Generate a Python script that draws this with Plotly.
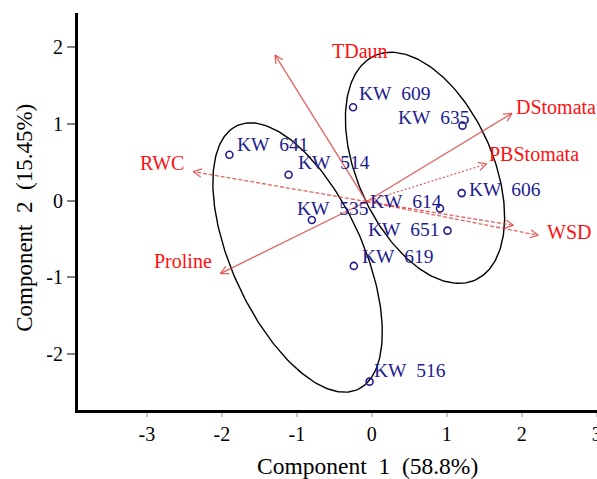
import numpy as np
import plotly.graph_objects as go

# ---------------- data ----------------
genotypes = ["KW 641", "KW 514", "KW 535", "KW 609", "KW 635",
             "KW 606", "KW 614", "KW 651", "KW 619", "KW 516"]
pc1_scores = [-1.90, -1.11, -0.80, -0.25, 1.21, 1.20, 0.91, 1.01, -0.24, -0.03]
pc2_scores = [0.60, 0.34, -0.25, 1.22, 0.98, 0.10, -0.10, -0.39, -0.85, -2.36]

variables = ["TDaun", "RWC", "DStomata", "PBStomata", "", "WSD", "Proline"]
load_pc1 = [-1.29, -2.38, 1.87, 1.53, 1.89, 2.22, -2.02]
load_pc2 = [1.90, 0.38, 1.14, 0.48, -0.32, -0.45, -0.95]
arrow_origin = [-0.07, -0.01]

# confidence ellipses: center x, center y, semi-major, semi-minor, angle (deg)
ellipse_left = [-0.99, -0.74, 1.90, 0.87, -64.7]
ellipse_right = [0.71, 0.43, 1.61, 0.90, -65.0]

x_ticks = [-3, -2, -1, 0, 1, 2, 3]
y_ticks = [-2, -1, 0, 1, 2]

# ---------------- styles / layout ----------------
FONT = "Liberation Serif"
BLUE = "#221c8e"
RED = "#ff1010"
ARROW = "rgba(222,70,70,0.85)"
NB = "\u00a0\u00a0"

W, H = 597, 479
M = dict(l=78, r=0, t=13, b=69)
XR = [-3.92, 3.005]
YR = [-2.73, 2.45]
sx = (W - M["l"] - M["r"]) / (XR[1] - XR[0])   # px per x unit
sy = (H - M["t"] - M["b"]) / (YR[1] - YR[0])   # px per y unit

# label offsets in pixels: (anchor, xshift, yshift)
point_label_style = {
    "KW 641": ("left", 7, 10), "KW 514": ("left", 8, 12),
    "KW 535": ("left", -16, 11), "KW 609": ("left", 5, 14),
    "KW 635": ("right", 9, 8), "KW 606": ("left", 6, 4),
    "KW 614": ("right", 3, 7), "KW 651": ("right", -6, 1),
    "KW 619": ("left", 7, 9), "KW 516": ("left", 3, 11),
}
var_label_style = {
    "TDaun": ("left", 56, 4), "RWC": ("right", -8, 9),
    "DStomata": ("left", 3, 6), "PBStomata": ("left", 2, 10),
    "WSD": ("left", 8, 3), "Proline": ("right", -7, 13),
}
var_dash = {"TDaun": "solid", "RWC": "4px,2px", "DStomata": "solid",
            "PBStomata": "2px,2px", "": "4px,2px", "WSD": "4px,2px",
            "Proline": "solid"}

fig = go.Figure()

# ellipses
def ellipse_xy(p):
    cx, cy, a, b, ang = p
    t = np.linspace(0, 2 * np.pi, 240)
    th = np.deg2rad(ang)
    x = cx + a * np.cos(t) * np.cos(th) - b * np.sin(t) * np.sin(th)
    y = cy + a * np.cos(t) * np.sin(th) + b * np.sin(t) * np.cos(th)
    return x, y

for e in (ellipse_left, ellipse_right):
    ex, ey = ellipse_xy(e)
    fig.add_trace(go.Scatter(x=ex, y=ey, mode="lines",
                             line=dict(color="black", width=1.4),
                             hoverinfo="skip", showlegend=False))

annotations = []
HEAD_LEN, HEAD_ANG = 9.0, np.deg2rad(27)
# loading arrows
for name, lx, ly in zip(variables, load_pc1, load_pc2):
    fig.add_trace(go.Scatter(x=[arrow_origin[0], lx], y=[arrow_origin[1], ly],
                             mode="lines",
                             line=dict(color=ARROW, width=1.3, dash=var_dash[name]),
                             hoverinfo="skip", showlegend=False))
    # open V arrowhead, built in pixel space then mapped back to data units
    ux, uy = (lx - arrow_origin[0]) * sx, (ly - arrow_origin[1]) * sy
    n = np.hypot(ux, uy)
    ux, uy = ux / n, uy / n
    hx, hy = [], []
    for s in (1, -1):
        c, si = np.cos(s * HEAD_ANG), np.sin(s * HEAD_ANG)
        rx, ry = ux * c - uy * si, ux * si + uy * c
        hx.append(lx - HEAD_LEN * rx / sx)
        hy.append(ly - HEAD_LEN * ry / sy)
    fig.add_trace(go.Scatter(x=[hx[0], lx, hx[1]], y=[hy[0], ly, hy[1]],
                             mode="lines", line=dict(color=ARROW, width=1.3),
                             hoverinfo="skip", showlegend=False))
    if name:
        anc, xs, ys = var_label_style[name]
        annotations.append(dict(x=lx, y=ly, xref="x", yref="y", text=name,
                                showarrow=False, xanchor=anc, yanchor="middle",
                                xshift=xs, yshift=ys, borderpad=0,
                                font=dict(family=FONT, size=20, color=RED)))

# genotype scores
fig.add_trace(go.Scatter(x=pc1_scores, y=pc2_scores, mode="markers",
                         marker=dict(symbol="circle-open", size=7,
                                     color=BLUE, line=dict(width=1.6, color=BLUE)),
                         hoverinfo="skip", showlegend=False))
for g, px, py in zip(genotypes, pc1_scores, pc2_scores):
    anc, xs, ys = point_label_style[g]
    annotations.append(dict(x=px, y=py, xref="x", yref="y",
                            text=g.replace(" ", NB), showarrow=False,
                            xanchor=anc, yanchor="middle", xshift=xs, yshift=ys,
                            borderpad=0,
                            font=dict(family=FONT, size=19.5, color=BLUE)))

# axis titles
annotations.append(dict(x=0.557, y=0, xref="paper", yref="paper",
                        text="Component" + NB + "1" + NB + "(58.8%)",
                        showarrow=False, xanchor="center", yanchor="middle",
                        yshift=-56, font=dict(family=FONT, size=23.5, color="black")))
annotations.append(dict(x=0, y=0.484, xref="paper", yref="paper",
                        text="Component" + NB + "2" + NB + "(15.45%)",
                        showarrow=False, xanchor="center", yanchor="middle",
                        xshift=-53, textangle=-90,
                        font=dict(family=FONT, size=23, color="black")))

fig.update_layout(
    width=W, height=H,
    margin=dict(**M, autoexpand=False),
    paper_bgcolor="white", plot_bgcolor="white",
    annotations=annotations,
    font=dict(family=FONT, size=20, color="black"),
    xaxis=dict(range=XR, tickvals=x_ticks,
               ticktext=[str(v) for v in x_ticks],
               showgrid=False, zeroline=False, showline=True,
               linecolor="black", linewidth=3, ticks="outside",
               ticklen=4, tickwidth=1.5, tickcolor="#c8c8c8",
               ticklabeloverflow="allow", automargin=False,
               tickfont=dict(family=FONT, size=20, color="black")),
    yaxis=dict(range=YR, tickvals=y_ticks,
               ticktext=[str(v) for v in y_ticks],
               showgrid=False, zeroline=False, showline=True,
               linecolor="black", linewidth=3, ticks="outside",
               ticklen=8, tickwidth=2, tickcolor="#808080",
               automargin=False,
               tickfont=dict(family=FONT, size=20, color="black")),
)

fig.write_html("out.html")
